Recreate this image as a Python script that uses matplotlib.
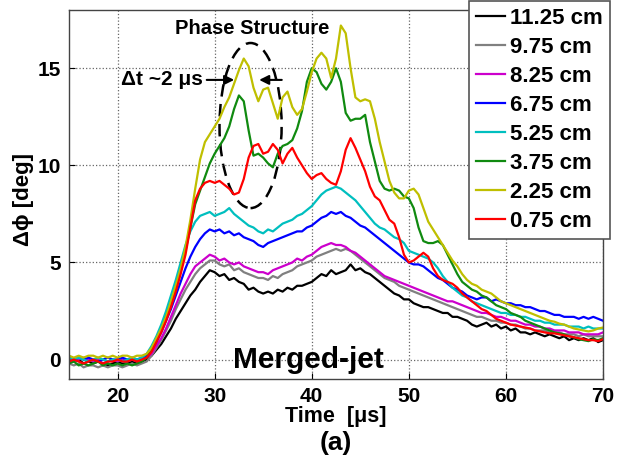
import numpy as np
import matplotlib.pyplot as plt
from matplotlib.patches import Ellipse

plt.rcParams['font.family'] = ['Liberation Sans', 'DejaVu Sans']
plt.rcParams['font.weight'] = 'bold'

# time axis [us], 0.5 us sampling
time_us = np.arange(15.0, 70.25, 0.5)

# phase shift [deg] for each probe position (rows of 5 us)
dphi_1125 = [0.0, -0.1, 0.0, -0.2, -0.1, -0.2, -0.1, -0.2, -0.3, -0.2,
             -0.1, -0.2, -0.2, -0.1, -0.2, -0.1, 0.0, 0.2, 0.5, 0.8,
             1.2, 1.6, 2.1, 2.5, 2.9, 3.3, 3.6, 4.0, 4.3, 4.6,
             4.5, 4.3, 4.4, 4.1, 4.2, 4.0, 3.9, 3.6, 3.7, 3.5,
             3.4, 3.5, 3.4, 3.6, 3.5, 3.7, 3.6, 3.8, 3.8, 3.9,
             4.0, 4.2, 4.4, 4.3, 4.6, 4.4, 4.5, 4.6, 4.9, 4.6,
             4.7, 4.5, 4.4, 4.2, 4.0, 3.8, 3.6, 3.4, 3.3, 3.1,
             3.1, 2.9, 2.8, 2.7, 2.7, 2.6, 2.5, 2.4, 2.4, 2.2,
             2.2, 2.1, 2.0, 1.8, 1.7, 1.8, 1.9, 1.7, 1.8, 1.6,
             1.7, 1.5, 1.6, 1.4, 1.4, 1.3, 1.4, 1.3, 1.2, 1.3,
             1.2, 1.1, 1.2, 1.0, 1.1, 1.0, 1.1, 1.0, 1.1, 0.9,
             1.0]
dphi_975 = [-0.2, -0.3, -0.2, -0.4, -0.3, -0.3, -0.4, -0.3, -0.4, -0.3,
            -0.3, -0.4, -0.3, -0.2, -0.3, -0.2, -0.1, 0.2, 0.6, 1.0,
            1.5, 2.0, 2.6, 3.1, 3.6, 4.0, 4.4, 4.7, 4.9, 5.1,
            5.1, 4.9, 4.8, 4.9, 4.6, 4.7, 4.5, 4.4, 4.3, 4.2,
            4.2, 4.1, 4.3, 4.2, 4.4, 4.5, 4.6, 4.8, 4.9, 5.0,
            5.1, 5.3, 5.4, 5.5, 5.6, 5.7, 5.6, 5.7, 5.6, 5.4,
            5.2, 5.0, 4.8, 4.6, 4.4, 4.2, 4.1, 4.0, 3.8, 3.7,
            3.6, 3.5, 3.4, 3.3, 3.2, 3.1, 3.0, 2.9, 2.8, 2.7,
            2.6, 2.5, 2.4, 2.3, 2.2, 2.2, 2.1, 2.0, 2.0, 1.9,
            1.9, 1.8, 1.8, 1.7, 1.6, 1.6, 1.5, 1.5, 1.5, 1.4,
            1.4, 1.4, 1.3, 1.3, 1.3, 1.2, 1.3, 1.2, 1.2, 1.2,
            1.2]
dphi_825 = [0.0, -0.1, 0.0, 0.1, 0.0, -0.1, 0.0, -0.2, -0.1, 0.0,
            -0.1, 0.0, -0.1, 0.0, -0.1, 0.0, 0.1, 0.3, 0.7, 1.1,
            1.6, 2.2, 2.8, 3.4, 3.9, 4.4, 4.8, 5.0, 5.2, 5.4,
            5.3, 5.1, 5.2, 5.0, 4.9, 5.0, 4.8, 4.7, 4.6, 4.5,
            4.5, 4.4, 4.6, 4.7, 4.8, 4.9, 5.0, 5.2, 5.1, 5.3,
            5.4, 5.6, 5.8, 5.9, 6.0, 5.9, 5.9, 5.8, 5.6, 5.5,
            5.3, 5.1, 4.9, 4.7, 4.5, 4.3, 4.2, 4.1, 4.0, 3.9,
            3.8, 3.7, 3.6, 3.5, 3.4, 3.3, 3.2, 3.1, 3.0, 3.0,
            2.9, 2.8, 2.7, 2.6, 2.5, 2.4, 2.4, 2.3, 2.2, 2.2,
            2.1, 2.0, 2.0, 1.9, 1.8, 1.8, 1.7, 1.7, 1.6, 1.6,
            1.5, 1.5, 1.5, 1.4, 1.4, 1.4, 1.3, 1.3, 1.3, 1.3,
            1.4]
dphi_675 = [0.1, 0.0, 0.1, 0.0, 0.1, 0.0, -0.1, 0.0, 0.1, 0.0,
            0.0, 0.1, 0.0, 0.1, 0.0, 0.1, 0.2, 0.5, 0.9, 1.4,
            2.0, 2.6, 3.3, 4.0, 4.7, 5.3, 5.8, 6.2, 6.5, 6.7,
            6.6, 6.7, 6.5, 6.6, 6.4, 6.5, 6.3, 6.2, 6.1, 5.9,
            5.8, 6.0, 6.1, 6.2, 6.3, 6.4, 6.5, 6.6, 6.6, 6.8,
            6.9, 7.1, 7.3, 7.4, 7.6, 7.5, 7.6, 7.4, 7.3, 7.1,
            6.9, 6.8, 6.6, 6.4, 6.2, 6.0, 5.8, 5.6, 5.4, 5.2,
            5.0, 4.9, 4.9, 4.8, 4.6, 4.4, 4.2, 4.1, 3.9, 3.7,
            3.6, 3.5, 3.3, 3.2, 3.1, 3.2, 3.2, 3.0, 3.1, 3.0,
            2.9, 2.9, 2.8, 2.8, 2.7, 2.7, 2.6, 2.5, 2.5, 2.4,
            2.3, 2.3, 2.2, 2.2, 2.2, 2.1, 2.2, 2.1, 2.2, 2.1,
            2.0]
dphi_525 = [0.1, 0.0, 0.1, 0.0, -0.1, 0.0, 0.1, 0.0, -0.1, 0.0,
            0.0, -0.1, 0.0, 0.1, 0.0, 0.1, 0.3, 0.7, 1.2, 1.8,
            2.5, 3.3, 4.1, 5.0, 5.9, 6.6, 7.1, 7.4, 7.5, 7.6,
            7.4, 7.5, 7.6, 7.8, 7.5, 7.3, 7.1, 6.9, 6.8, 6.6,
            6.5, 6.7, 6.6, 6.8, 7.0, 7.1, 7.2, 7.4, 7.5, 7.7,
            7.9, 8.2, 8.5, 8.7, 8.8, 8.9, 8.8, 8.6, 8.4, 8.2,
            7.9, 7.6, 7.3, 7.0, 6.8, 6.7, 6.5, 6.3, 6.2, 6.0,
            5.6, 5.5, 5.4, 5.3, 5.2, 5.0, 4.7, 4.3, 4.0, 3.7,
            3.5, 3.3, 3.2, 3.0, 2.9, 2.8, 2.7, 2.6, 2.5, 2.4,
            2.4, 2.3, 2.3, 2.2, 2.2, 2.1, 2.0, 2.0, 1.9, 1.9,
            1.8, 1.8, 1.8, 1.7, 1.7, 1.7, 1.6, 1.7, 1.6, 1.6,
            1.6]
dphi_375 = [-0.2, -0.1, -0.3, -0.2, -0.3, -0.2, -0.1, -0.3, -0.2, -0.3,
            -0.2, -0.3, -0.2, -0.3, -0.2, -0.1, 0.1, 0.5, 1.0, 1.5,
            2.2, 2.9, 3.7, 4.6, 5.6, 6.8, 8.0, 8.7, 9.4, 10.1,
            10.6, 11.0, 11.4, 12.0, 12.9, 13.6, 13.3, 11.8, 10.5, 10.6,
            10.4, 10.1, 9.9, 10.6, 11.0, 11.1, 11.3, 11.9, 12.8, 14.3,
            15.0, 14.8, 14.2, 13.9, 14.3, 15.0, 14.3, 12.7, 12.3, 12.4,
            12.4, 12.6, 11.2, 10.2, 9.2, 8.8, 8.7, 8.8, 8.7, 8.4,
            8.3, 7.8, 6.8, 6.1, 6.0, 6.0, 6.1, 5.9, 5.4, 4.9,
            4.4, 4.0, 3.8, 3.6, 3.5, 3.3, 3.2, 3.0, 2.8, 2.7,
            2.6, 2.4, 2.3, 2.2, 2.0, 1.9, 1.8, 1.7, 1.6, 1.5,
            1.4, 1.35, 1.3, 1.2, 1.15, 1.05, 1.0, 0.95, 1.05, 1.0,
            1.1]
dphi_225 = [0.2, 0.1, 0.2, 0.1, 0.2, 0.2, 0.1, 0.2, 0.1, 0.2,
            0.1, 0.2, 0.2, 0.1, 0.2, 0.2, 0.3, 0.6, 1.1, 1.6,
            2.2, 3.0, 3.8, 4.7, 5.8, 7.2, 8.8, 10.3, 11.2, 11.6,
            12.0, 12.4, 13.0, 13.5, 14.2, 14.9, 15.5, 15.1, 14.0, 13.3,
            13.9, 14.0, 13.2, 12.4, 13.5, 13.8, 13.0, 12.6, 12.9, 13.8,
            14.8, 15.5, 15.8, 15.5, 14.5, 15.5, 17.2, 16.8, 15.0, 13.5,
            13.3, 13.4, 13.3, 12.4, 11.2, 10.2, 9.2, 8.6, 8.3, 8.3,
            8.7, 8.8, 8.5, 7.8, 7.1, 6.7, 6.3, 5.9, 5.5, 5.1,
            4.8, 4.4, 4.1, 3.9, 3.8, 3.6, 3.5, 3.4, 3.2, 3.0,
            2.9, 2.8, 2.7, 2.6, 2.5, 2.4, 2.3, 2.2, 2.1, 2.0,
            1.95, 1.85, 1.8, 1.7, 1.6, 1.55, 1.5, 1.45, 1.5, 1.6,
            1.65]
dphi_075 = [-0.1, 0.0, -0.1, -0.2, -0.1, 0.0, -0.1, -0.2, -0.1, -0.1,
            0.0, -0.1, -0.1, 0.0, -0.1, 0.0, 0.1, 0.4, 0.9, 1.4,
            2.0, 2.7, 3.5, 4.4, 5.4, 6.8, 8.2, 8.8, 9.1, 9.2,
            9.1, 9.2, 9.0, 8.8, 8.5, 8.6, 9.3, 10.4, 11.0, 11.1,
            10.6, 10.7, 11.1, 10.8, 10.1, 10.6, 10.9, 10.4, 10.0, 9.6,
            9.3, 9.5, 9.6, 9.3, 9.1, 9.0, 9.7, 10.8, 11.4, 10.9,
            10.3, 9.7, 8.9, 8.4, 8.2, 7.7, 7.2, 7.0, 6.3, 5.4,
            5.0, 5.1, 5.3, 5.5, 5.3, 4.7, 4.3, 4.1, 4.0, 3.9,
            3.7, 3.4, 3.2, 3.0, 2.8, 2.6, 2.5, 2.3, 2.1, 2.0,
            1.9, 1.8, 1.75, 1.7, 1.65, 1.6, 1.5, 1.45, 1.4, 1.35,
            1.35, 1.3, 1.25, 1.2, 1.15, 1.1, 1.05, 1.0, 1.0, 0.95,
            1.05]

labels = ['11.25 cm', '9.75 cm', '8.25 cm', '6.75 cm',
          '5.25 cm', '3.75 cm', '2.25 cm', '0.75 cm']
series = [dphi_1125, dphi_975, dphi_825, dphi_675,
          dphi_525, dphi_375, dphi_225, dphi_075]
colors = ['#000000', '#808080', '#cc00cc', '#0000ff',
          '#00bfbf', '#108a10', '#bfbf00', '#ff0000']

fig = plt.figure(figsize=(6.25, 4.69), dpi=100)
ax = fig.add_axes([0.1104, 0.1919, 0.8544, 0.7868])

lines = []
for vals, col, lab in zip(series, colors, labels):
    assert len(vals) == len(time_us), lab
    ln, = ax.plot(time_us, vals, color=col, lw=1.6, label=lab)
    lines.append(ln)

ax.set_xlim(15, 70)
ax.set_ylim(-1, 18)
ax.set_xticks([20, 30, 40, 50, 60, 70])
ax.set_yticks([0, 5, 10, 15])
ax.grid(True, ls=':', color='#666666', lw=0.9)
ax.tick_params(direction='in', length=4, labelsize=15, pad=6)
for lbl in ax.get_xticklabels() + ax.get_yticklabels():
    lbl.set_fontweight('bold')
for sp in ax.spines.values():
    sp.set_color('#444444')
    sp.set_linewidth(1.0)

ax.set_xlabel('Time  [\u03bcs]', fontsize=15.5, fontweight='bold', labelpad=0)
fig.text(0.037, 1 - 200 / 469, '\u0394\u03d5 [deg]', rotation=90,
         ha='center', va='center', fontsize=16, fontweight='bold')
fig.text(0.538, 1 - 443 / 469, '(a)', ha='center', va='center',
         fontsize=19, fontweight='bold')

# annotations
ax.text(31.9, -0.45, 'Merged-jet', fontsize=21.5, fontweight='bold',
        ha='left', va='baseline')
ax.text(33.9, 17.05, 'Phase Structure', fontsize=14.5, fontweight='bold',
        ha='center', va='center')
ax.add_patch(Ellipse((33.7, 12.05), 6.4, 8.5, fill=False, ls=(0, (5, 3)),
                     lw=1.8, ec='black'))
ax.text(28.8, 14.4, '\u0394t ~2 \u03bcs', fontsize=15, fontweight='bold',
        ha='right', va='center')
ax.annotate('', xy=(32.3, 14.4), xytext=(28.9, 14.4),
            arrowprops=dict(arrowstyle='-|>', color='black', lw=1.5,
                            mutation_scale=14))
ax.annotate('', xy=(34.3, 14.4), xytext=(37.2, 14.4),
            arrowprops=dict(arrowstyle='-|>', color='black', lw=1.5,
                            mutation_scale=14))

leg = fig.legend(lines, labels, loc='upper left', bbox_to_anchor=(0.7504, 0.998),
                 fontsize=16, handlelength=1.3, handletextpad=0.22,
                 labelspacing=0.36, borderpad=0.32, borderaxespad=0,
                 fancybox=False, framealpha=1, edgecolor='#555555')
leg.get_frame().set_linewidth(1.2)
for t in leg.get_texts():
    t.set_fontweight('bold')

fig.savefig('out.png', dpi=100)
